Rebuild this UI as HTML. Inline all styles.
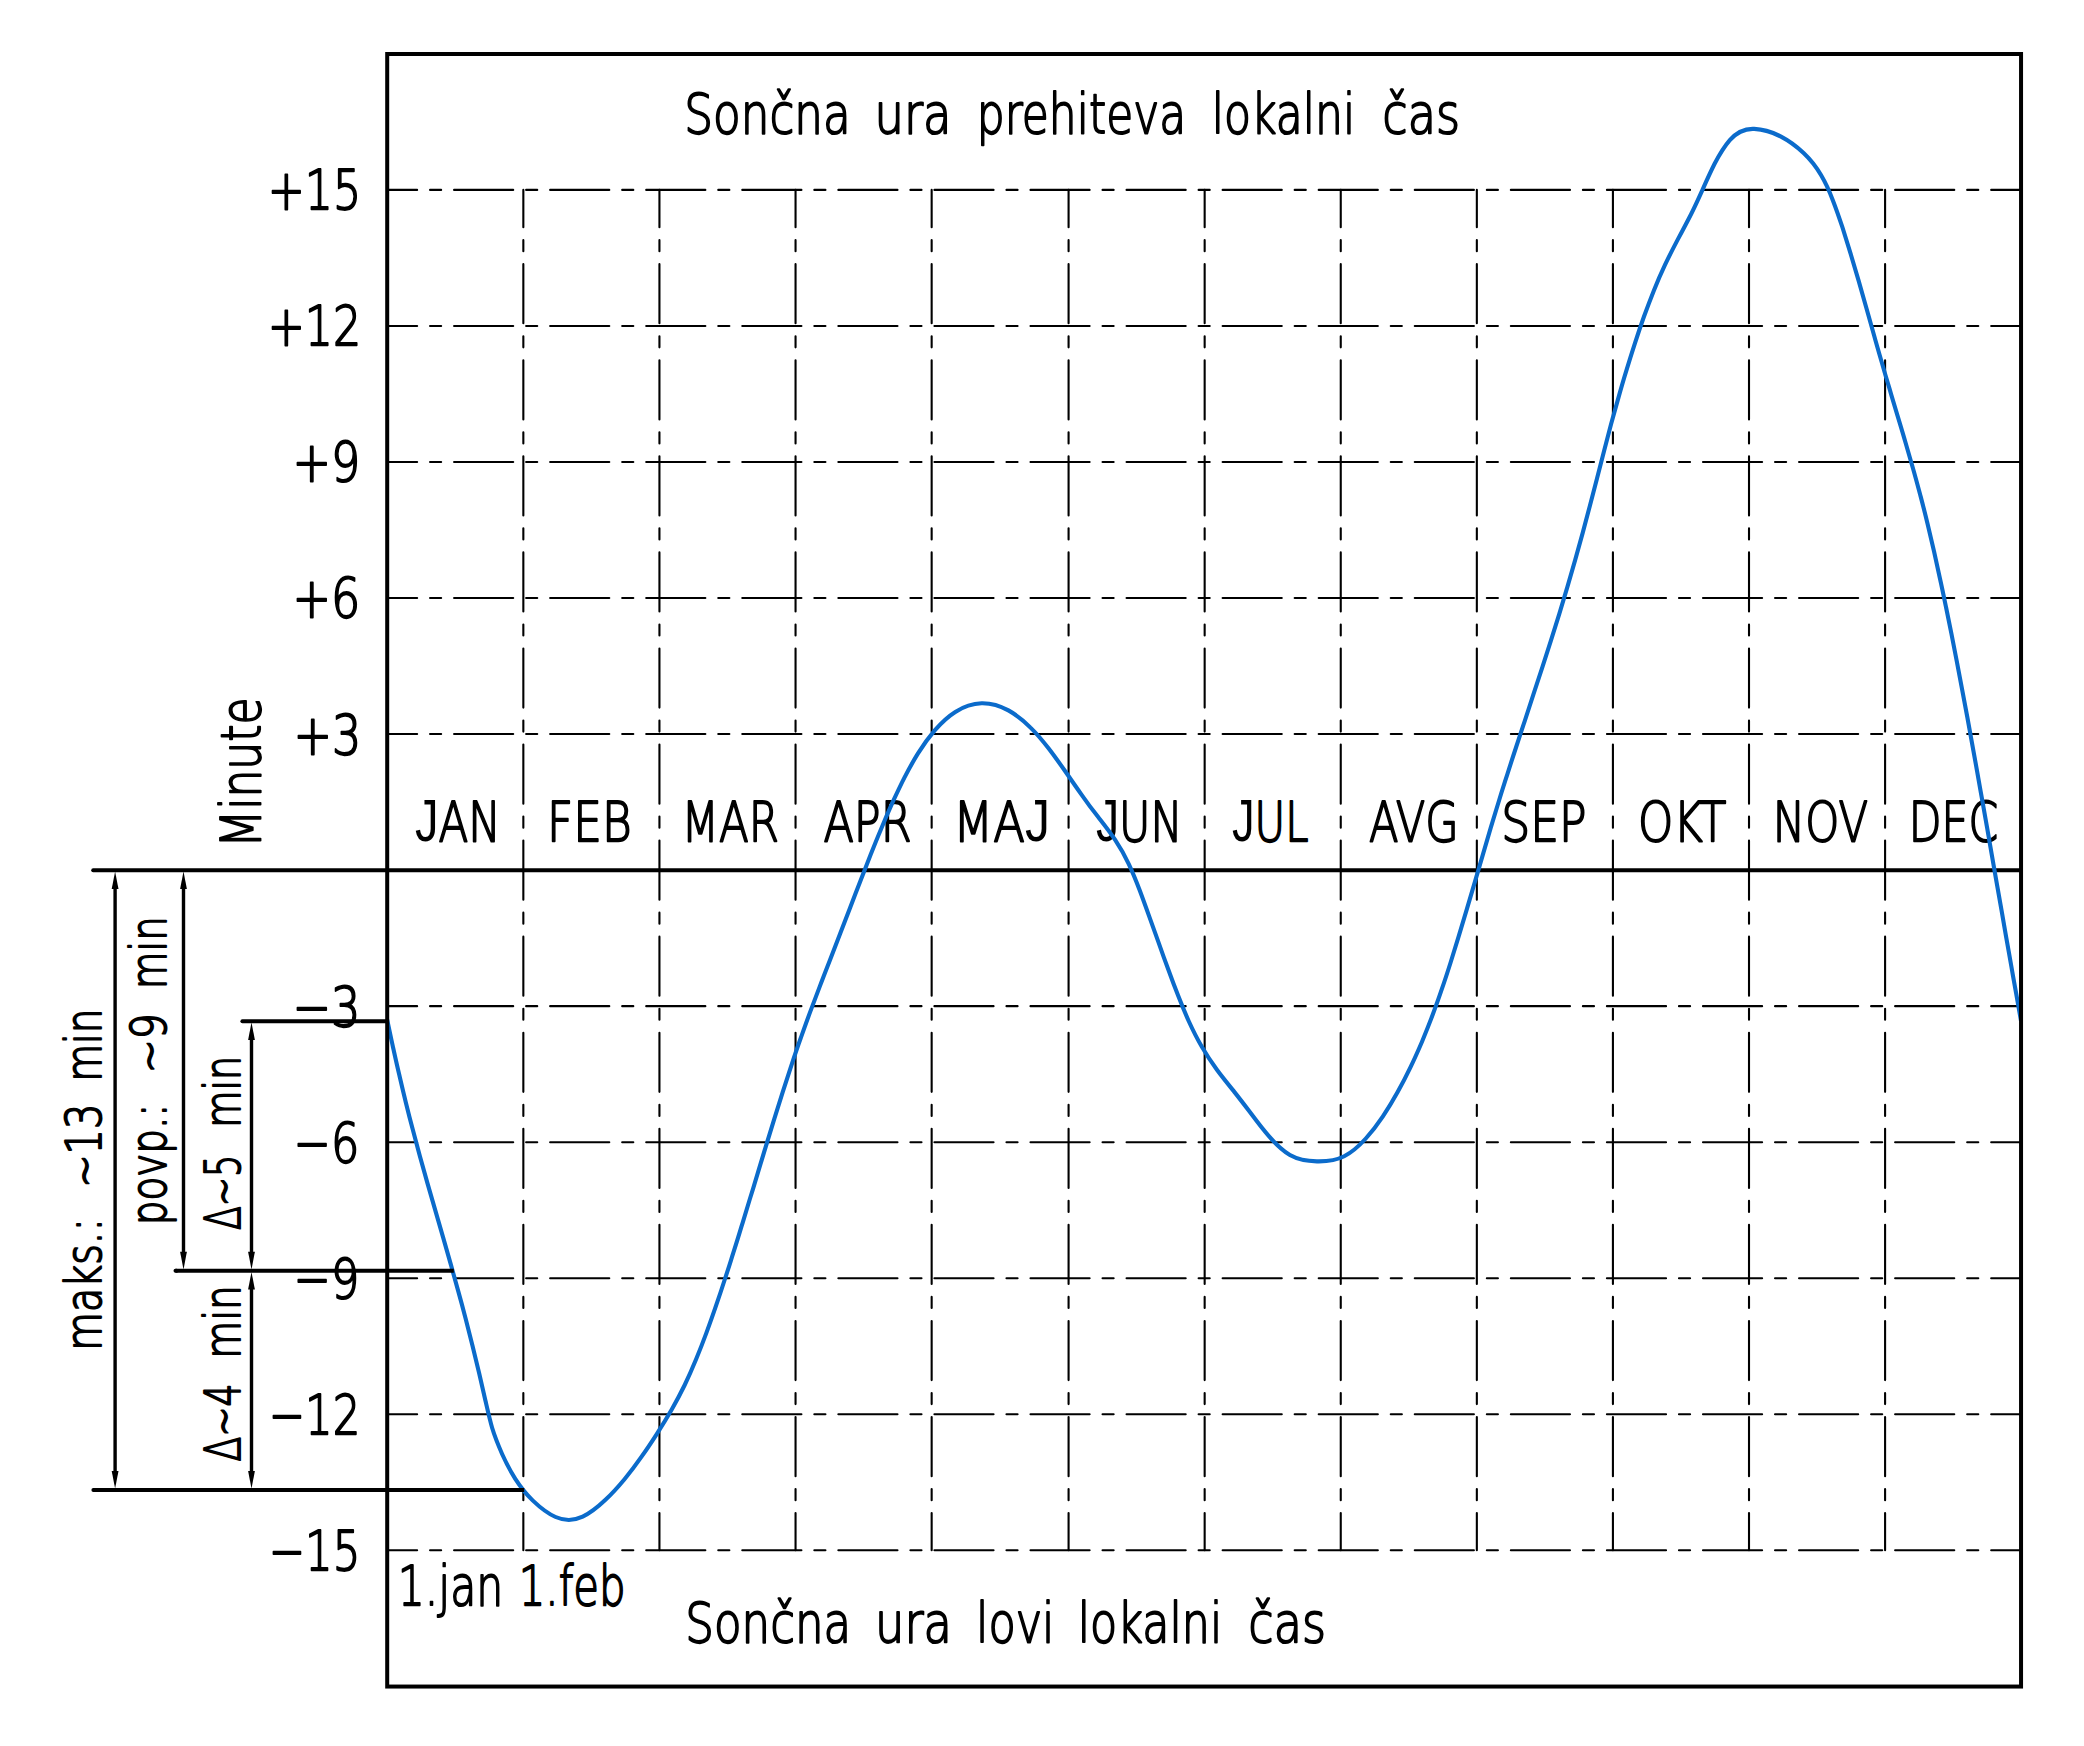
<!DOCTYPE html>
<html lang="sl"><head><meta charset="utf-8"><title>Časovna enačba</title>
<style>html,body{margin:0;padding:0;background:#fff}body{width:2084px;height:1746px;overflow:hidden}svg{display:block}text{font-family:"DejaVu Sans Light","DejaVu Sans","Liberation Sans",sans-serif;fill:#000}</style></head><body>
<svg width="2084" height="1746" viewBox="0 0 2084 1746">
<rect width="2084" height="1746" fill="#fff"/>
<g id="labels" font-weight="200" stroke="#000" stroke-width="1.9" stroke-linejoin="round" stroke-linecap="round">
<text y="132.70" font-size="54.60"><tspan x="684.32" textLength="166.38" lengthAdjust="spacingAndGlyphs">Sončna</tspan> <tspan x="874.47" textLength="77.07" lengthAdjust="spacingAndGlyphs">ura</tspan> <tspan x="976.82" textLength="209.33" lengthAdjust="spacingAndGlyphs">prehiteva</tspan> <tspan x="1211.79" textLength="143.45" lengthAdjust="spacingAndGlyphs">lokalni</tspan> <tspan x="1382.33" textLength="77.83" lengthAdjust="spacingAndGlyphs">čas</tspan></text>
<text y="1642.20" font-size="54.60"><tspan x="685.37" textLength="165.80" lengthAdjust="spacingAndGlyphs">Sončna</tspan> <tspan x="875.10" textLength="76.93" lengthAdjust="spacingAndGlyphs">ura</tspan> <tspan x="976.01" textLength="78.50" lengthAdjust="spacingAndGlyphs">lovi</tspan> <tspan x="1077.75" textLength="144.50" lengthAdjust="spacingAndGlyphs">lokalni</tspan> <tspan x="1248.35" textLength="77.77" lengthAdjust="spacingAndGlyphs">čas</tspan></text>
<text y="841.05" font-size="54.60"><tspan x="414.95" textLength="85.96" lengthAdjust="spacingAndGlyphs"><tspan font-family="'Liberation Sans',sans-serif" font-weight="400" stroke="none" font-size="59.01">J</tspan>AN</tspan></text>
<text y="841.05" font-size="54.60"><tspan x="547.12" textLength="84.60" lengthAdjust="spacingAndGlyphs">FEB</tspan></text>
<text y="841.05" font-size="54.60"><tspan x="681.57" textLength="97.52" lengthAdjust="spacingAndGlyphs">MAR</tspan></text>
<text y="841.05" font-size="54.60"><tspan x="823.48" textLength="88.08" lengthAdjust="spacingAndGlyphs">APR</tspan></text>
<text y="841.05" font-size="54.60"><tspan x="953.30" textLength="96.62" lengthAdjust="spacingAndGlyphs">MA<tspan font-family="'Liberation Sans',sans-serif" font-weight="400" stroke="none" font-size="59.01">J</tspan></tspan></text>
<text y="841.05" font-size="54.60"><tspan x="1095.92" textLength="86.60" lengthAdjust="spacingAndGlyphs"><tspan font-family="'Liberation Sans',sans-serif" font-weight="400" stroke="none" font-size="59.01">J</tspan>UN</tspan></text>
<text y="841.05" font-size="54.60"><tspan x="1231.98" textLength="76.53" lengthAdjust="spacingAndGlyphs"><tspan font-family="'Liberation Sans',sans-serif" font-weight="400" stroke="none" font-size="59.01">J</tspan>UL</tspan></text>
<text y="841.05" font-size="54.60"><tspan x="1368.98" textLength="89.73" lengthAdjust="spacingAndGlyphs">AVG</tspan></text>
<text y="841.05" font-size="54.60"><tspan x="1501.28" textLength="85.34" lengthAdjust="spacingAndGlyphs">SEP</tspan></text>
<text y="841.05" font-size="54.60"><tspan x="1637.90" textLength="88.60" lengthAdjust="spacingAndGlyphs">OKT</tspan></text>
<text y="841.05" font-size="54.60"><tspan x="1772.78" textLength="95.29" lengthAdjust="spacingAndGlyphs">NOV</tspan></text>
<text y="841.05" font-size="54.60"><tspan x="1908.71" textLength="89.40" lengthAdjust="spacingAndGlyphs">DEC</tspan></text>
<text y="209.30" font-size="54.60"><tspan x="267.68" textLength="93.63" lengthAdjust="spacingAndGlyphs">+15</tspan></text>
<text y="345.35" font-size="54.60"><tspan x="267.68" textLength="93.63" lengthAdjust="spacingAndGlyphs">+12</tspan></text>
<text y="481.40" font-size="54.60"><tspan x="292.49" textLength="67.93" lengthAdjust="spacingAndGlyphs">+9</tspan></text>
<text y="617.45" font-size="54.60"><tspan x="292.49" textLength="67.93" lengthAdjust="spacingAndGlyphs">+6</tspan></text>
<text y="753.50" font-size="54.60"><tspan x="293.51" textLength="67.93" lengthAdjust="spacingAndGlyphs">+3</tspan></text>
<text y="1025.60" font-size="54.60"><tspan x="292.41" textLength="68.09" lengthAdjust="spacingAndGlyphs">−3</tspan></text>
<text y="1161.65" font-size="54.60"><tspan x="293.56" textLength="65.69" lengthAdjust="spacingAndGlyphs">−6</tspan></text>
<text y="1297.70" font-size="54.60"><tspan x="293.56" textLength="65.69" lengthAdjust="spacingAndGlyphs">−9</tspan></text>
<text y="1433.75" font-size="54.60"><tspan x="268.69" textLength="91.64" lengthAdjust="spacingAndGlyphs">−12</tspan></text>
<text y="1569.80" font-size="54.60"><tspan x="268.69" textLength="91.66" lengthAdjust="spacingAndGlyphs">−15</tspan></text>
<text y="1604.70" font-size="54.60"><tspan x="397.73" textLength="105.54" lengthAdjust="spacingAndGlyphs">1.jan</tspan> <tspan x="518.78" textLength="106.85" lengthAdjust="spacingAndGlyphs">1.feb</tspan></text>
<text transform="translate(259.50 0) rotate(-90)" y="0" font-size="54.60"><tspan x="-847.84" textLength="150.48" lengthAdjust="spacingAndGlyphs">Minute</tspan></text>
<text transform="translate(101.40 0) rotate(-90)" y="0" font-size="49.25"><tspan x="-1350.71" textLength="132.49" lengthAdjust="spacingAndGlyphs">maks.:</tspan> <tspan x="-1187.80" textLength="84.08" lengthAdjust="spacingAndGlyphs">~13</tspan> <tspan x="-1081.82" textLength="73.16" lengthAdjust="spacingAndGlyphs">min</tspan></text>
<text transform="translate(165.50 0) rotate(-90)" y="0" font-size="49.25"><tspan x="-1225.28" textLength="121.61" lengthAdjust="spacingAndGlyphs">povp.:</tspan> <tspan x="-1073.37" textLength="60.07" lengthAdjust="spacingAndGlyphs">~9</tspan> <tspan x="-989.27" textLength="73.05" lengthAdjust="spacingAndGlyphs">min</tspan></text>
<text transform="translate(239.60 0) rotate(-90)" y="0" font-size="49.25"><tspan x="-1230.02" textLength="75.18" lengthAdjust="spacingAndGlyphs">Δ~5</tspan> <tspan x="-1127.78" textLength="72.06" lengthAdjust="spacingAndGlyphs">min</tspan></text>
<text transform="translate(239.80 0) rotate(-90)" y="0" font-size="49.25"><tspan x="-1461.53" textLength="78.09" lengthAdjust="spacingAndGlyphs">Δ~4</tspan> <tspan x="-1358.82" textLength="73.60" lengthAdjust="spacingAndGlyphs">min</tspan></text>
</g>
<g stroke="#000" stroke-width="2.1" fill="none" stroke-linecap="round" stroke-dasharray="59.14 12.91 11.11 12.91">
<path d="M387.20 1550.30H2021.05" stroke-dashoffset="29.2"/>
<path d="M387.20 1414.26H2021.05" stroke-dashoffset="29.2"/>
<path d="M387.20 1278.22H2021.05" stroke-dashoffset="29.2"/>
<path d="M387.20 1142.18H2021.05" stroke-dashoffset="29.2"/>
<path d="M387.20 1006.14H2021.05" stroke-dashoffset="29.2"/>
<path d="M387.20 734.06H2021.05" stroke-dashoffset="29.2"/>
<path d="M387.20 598.02H2021.05" stroke-dashoffset="29.2"/>
<path d="M387.20 461.98H2021.05" stroke-dashoffset="29.2"/>
<path d="M387.20 325.94H2021.05" stroke-dashoffset="29.2"/>
<path d="M387.20 189.90H2021.05" stroke-dashoffset="29.2"/>
<path d="M523.34 189.90V1550.30" stroke-dashoffset="21.8"/>
<path d="M659.44 189.90V1550.30" stroke-dashoffset="21.8"/>
<path d="M795.55 189.90V1550.30" stroke-dashoffset="21.8"/>
<path d="M931.66 189.90V1550.30" stroke-dashoffset="21.8"/>
<path d="M1068.58 189.90V1550.30" stroke-dashoffset="21.8"/>
<path d="M1204.66 189.90V1550.30" stroke-dashoffset="21.8"/>
<path d="M1340.75 189.90V1550.30" stroke-dashoffset="21.8"/>
<path d="M1476.84 189.90V1550.30" stroke-dashoffset="21.8"/>
<path d="M1612.92 189.90V1550.30" stroke-dashoffset="21.8"/>
<path d="M1749.01 189.90V1550.30" stroke-dashoffset="21.8"/>
<path d="M1885.09 189.90V1550.30" stroke-dashoffset="21.8"/>
</g>
<path d="M93.2 870.20H2019.05" stroke="#000" stroke-width="4" fill="none" stroke-linecap="round"/>
<path d="M387.2 1019.7C389.1 1029.2 391.1 1038.3 393.0 1047.2C395.1 1056.7 397.1 1065.8 399.2 1074.6C401.4 1084.0 403.5 1093.1 405.7 1101.9C408.0 1111.3 410.3 1120.3 412.7 1129.2C415.1 1138.4 417.5 1147.5 419.9 1156.3C422.5 1165.5 425.0 1174.5 427.5 1183.4C430.1 1192.5 432.7 1201.4 435.3 1210.4C437.9 1219.4 440.5 1228.3 443.1 1237.4C445.7 1246.3 448.2 1255.3 450.8 1264.4C453.3 1273.2 455.8 1282.2 458.3 1291.4C460.8 1300.3 463.2 1309.3 465.6 1318.6C467.9 1327.4 470.2 1336.5 472.5 1345.8C474.7 1354.7 476.9 1363.7 479.1 1373.1C481.2 1382.0 483.3 1391.2 485.4 1400.5C487.7 1410.4 489.9 1420.2 492.1 1427.8C495.5 1439.0 498.8 1446.5 502.1 1454.0C506.5 1463.8 510.9 1471.9 515.3 1478.8C521.2 1488.0 527.0 1494.9 532.9 1500.6C540.5 1507.9 548.0 1513.6 555.6 1517.0C564.6 1521.0 573.7 1520.9 582.7 1516.7C590.2 1513.1 597.7 1507.2 605.2 1500.1C611.6 1494.1 617.9 1487.2 624.3 1479.5C629.9 1472.6 635.6 1465.1 641.2 1457.1C646.5 1449.7 651.7 1441.9 656.9 1433.8C661.8 1426.2 666.7 1418.3 671.6 1409.8C675.9 1402.2 680.3 1394.0 684.7 1385.0C688.5 1377.1 692.3 1368.5 696.1 1359.3C699.5 1351.0 702.9 1342.3 706.3 1333.1C709.4 1324.6 712.6 1315.8 715.7 1306.6C718.7 1298.0 721.7 1289.1 724.6 1280.0C727.5 1271.3 730.3 1262.3 733.2 1253.2C736.0 1244.4 738.8 1235.5 741.5 1226.4C744.3 1217.5 747.0 1208.6 749.7 1199.5C752.5 1190.6 755.2 1181.6 757.9 1172.7C760.6 1163.7 763.3 1154.7 766.0 1145.8C768.8 1136.8 771.5 1127.8 774.3 1118.9C777.1 1109.9 779.9 1100.9 782.7 1092.1C785.6 1083.0 788.5 1074.1 791.4 1065.4C794.4 1056.3 797.4 1047.4 800.5 1038.8C803.7 1029.8 806.8 1021.0 810.0 1012.4C813.3 1003.5 816.6 994.7 819.9 986.1C823.2 977.3 826.6 968.6 830.0 959.9C833.4 951.1 836.7 942.4 840.1 933.7C843.5 925.0 846.8 916.2 850.2 907.4C853.6 898.7 856.9 889.9 860.3 881.2C863.7 872.4 867.1 863.6 870.5 855.1C874.0 846.2 877.5 837.5 881.1 829.0C884.8 820.1 888.5 811.5 892.2 803.2C896.3 794.3 900.3 785.8 904.3 777.9C908.9 768.9 913.5 760.7 918.0 753.4C923.5 744.6 929.0 737.0 934.5 730.6C941.4 722.6 948.3 716.3 955.3 711.9C964.1 706.2 972.8 703.4 981.6 703.2C990.6 703.0 999.5 705.4 1008.4 710.4C1015.8 714.5 1023.2 720.2 1030.5 727.6C1036.7 733.6 1042.8 740.9 1048.9 748.8C1054.4 756.0 1059.9 763.7 1065.4 771.5C1070.7 779.2 1076.1 787.0 1081.5 794.6C1087.0 802.5 1092.6 810.0 1098.2 817.1C1103.8 824.3 1109.4 831.3 1115.0 839.7C1119.6 846.6 1124.2 854.4 1128.8 864.1C1132.4 871.7 1136.0 880.6 1139.6 890.0C1142.8 898.5 1146.0 907.4 1149.2 916.4C1152.4 925.2 1155.5 934.1 1158.7 942.9C1161.8 951.8 1165.0 960.7 1168.2 969.3C1171.5 978.4 1174.8 987.2 1178.1 995.6C1181.7 1004.8 1185.3 1013.5 1188.9 1021.5C1193.2 1030.9 1197.4 1039.2 1201.7 1046.5C1206.8 1055.4 1212.0 1063.0 1217.1 1070.0C1222.9 1077.8 1228.7 1084.9 1234.5 1092.1C1240.2 1099.2 1245.9 1106.8 1251.6 1114.3C1257.4 1122.1 1263.2 1129.7 1269.1 1136.4C1276.0 1144.4 1283.0 1151.0 1289.9 1155.0C1298.9 1160.1 1307.9 1161.2 1316.9 1161.4C1326.0 1161.6 1335.1 1161.0 1344.2 1156.3C1351.4 1152.5 1358.6 1146.5 1365.8 1138.5C1371.5 1132.2 1377.2 1124.8 1382.9 1116.3C1387.8 1109.0 1392.7 1101.0 1397.5 1092.3C1401.8 1084.6 1406.1 1076.3 1410.4 1067.3C1414.3 1059.3 1418.1 1050.8 1422.0 1041.7C1425.4 1033.5 1428.9 1024.8 1432.4 1015.6C1435.5 1007.2 1438.7 998.4 1441.8 989.2C1444.8 980.6 1447.7 971.7 1450.6 962.5C1453.4 953.7 1456.1 944.8 1458.9 935.6C1461.6 926.8 1464.3 917.8 1467.0 908.7C1469.6 899.8 1472.2 890.8 1474.9 881.8C1477.5 872.8 1480.1 863.8 1482.8 854.8C1485.4 845.7 1488.1 836.7 1490.7 827.9C1493.5 818.7 1496.2 809.8 1498.9 801.0C1501.7 791.9 1504.5 783.0 1507.4 774.2C1510.2 765.2 1513.1 756.3 1516.0 747.5C1518.9 738.5 1521.8 729.6 1524.8 720.8C1527.7 711.9 1530.6 703.0 1533.5 694.1C1536.5 685.2 1539.4 676.3 1542.3 667.4C1545.2 658.6 1548.0 649.7 1550.9 640.6C1553.7 631.8 1556.5 622.9 1559.3 613.8C1562.0 605.0 1564.7 596.1 1567.4 586.9C1570.0 578.1 1572.6 569.1 1575.2 559.9C1577.7 551.1 1580.2 542.1 1582.7 532.9C1585.1 524.0 1587.5 514.9 1589.9 505.7C1592.3 496.7 1594.6 487.6 1597.0 478.5C1599.3 469.4 1601.6 460.3 1604.0 451.3C1606.4 442.1 1608.7 433.0 1611.1 424.1C1613.6 414.9 1616.1 405.8 1618.6 397.1C1621.2 387.8 1623.8 378.8 1626.5 370.1C1629.3 360.8 1632.1 351.9 1634.9 343.3C1637.9 334.0 1640.9 325.1 1643.9 316.7C1647.3 307.4 1650.6 298.7 1653.9 290.4C1657.6 281.2 1661.4 272.6 1665.1 264.7C1669.3 255.7 1673.5 247.6 1677.7 239.6C1682.1 231.4 1686.4 223.3 1690.8 214.7C1694.8 206.8 1698.7 198.2 1702.7 189.3C1706.7 180.4 1710.7 171.5 1714.6 163.8C1719.7 154.1 1724.7 146.1 1729.8 140.2C1737.9 130.9 1746.0 128.5 1754.2 128.9C1763.1 129.3 1772.0 131.9 1781.0 136.6C1788.5 140.5 1796.1 145.9 1803.6 153.0C1809.4 158.5 1815.2 165.1 1821.0 175.0C1825.0 181.7 1829.0 190.1 1832.9 200.4C1836.0 208.4 1839.1 217.3 1842.3 226.9C1845.0 235.4 1847.8 244.4 1850.6 253.7C1853.3 262.5 1855.9 271.5 1858.6 280.6C1861.1 289.5 1863.7 298.6 1866.3 307.7C1868.8 316.7 1871.3 325.7 1873.9 334.7C1876.4 343.8 1879.0 352.8 1881.6 361.7C1884.2 370.9 1886.8 379.8 1889.5 388.7C1892.1 397.7 1894.8 406.7 1897.5 415.6C1900.2 424.5 1902.9 433.4 1905.5 442.5C1908.1 451.3 1910.7 460.3 1913.3 469.5C1915.8 478.3 1918.2 487.3 1920.7 496.6C1923.0 505.4 1925.3 514.4 1927.6 523.9C1929.7 532.7 1931.8 541.8 1934.0 551.2C1936.0 560.1 1938.0 569.3 1940.0 578.7C1942.0 587.6 1943.9 596.8 1945.8 606.1C1947.7 615.2 1949.5 624.3 1951.4 633.7C1953.2 642.7 1955.0 651.9 1956.8 661.3C1958.5 670.3 1960.3 679.5 1962.0 688.9C1963.7 698.0 1965.4 707.2 1967.2 716.5C1968.8 725.6 1970.5 734.8 1972.2 744.1C1973.9 753.3 1975.5 762.5 1977.2 771.8C1978.8 780.9 1980.4 790.2 1982.1 799.4C1983.7 808.6 1985.3 817.8 1987.0 827.1C1988.6 836.3 1990.2 845.5 1991.8 854.8C1993.4 864.0 1995.0 873.2 1996.6 882.4C1998.2 891.7 1999.9 900.9 2001.5 910.1C2003.1 919.4 2004.7 928.6 2006.3 937.8C2007.9 947.0 2009.6 956.3 2011.2 965.5C2012.8 974.7 2014.4 984.0 2016.1 993.1C2017.7 1002.4 2019.4 1011.6 2021.0 1020.8" fill="none" stroke="#0b6bcb" stroke-width="4.1" stroke-linejoin="round"/>
<g stroke="#000" stroke-width="4" fill="none" stroke-linecap="round">
<path d="M242.4 1021.2H386.20"/>
<path d="M175.5 1270.7H453.8" stroke-linecap="butt"/><path d="M175.5 1270.7h1"/>
<path d="M93.4 1489.9H524.2" stroke-linecap="butt"/><path d="M93.4 1489.9h1"/>
</g>
<g>
<path d="M115.10 888.10V1472.00" stroke="#000" stroke-width="3.4" fill="none"/><path d="M115.10 871.50L111.70 889.10L118.50 889.10Z" fill="#000"/><path d="M115.10 1488.60L111.70 1471.00L118.50 1471.00Z" fill="#000"/>
<path d="M183.50 888.10V1252.80" stroke="#000" stroke-width="3.4" fill="none"/><path d="M183.50 871.50L180.10 889.10L186.90 889.10Z" fill="#000"/><path d="M183.50 1269.40L180.10 1251.80L186.90 1251.80Z" fill="#000"/>
<path d="M251.50 1039.10V1252.80" stroke="#000" stroke-width="3.4" fill="none"/><path d="M251.50 1022.50L248.10 1040.10L254.90 1040.10Z" fill="#000"/><path d="M251.50 1269.40L248.10 1251.80L254.90 1251.80Z" fill="#000"/>
<path d="M251.50 1288.60V1472.00" stroke="#000" stroke-width="3.4" fill="none"/><path d="M251.50 1272.00L248.10 1289.60L254.90 1289.60Z" fill="#000"/><path d="M251.50 1488.60L248.10 1471.00L254.90 1471.00Z" fill="#000"/>
</g>
<rect x="387.20" y="54.00" width="1633.85" height="1632.55" fill="none" stroke="#000" stroke-width="4"/>
</svg></body></html>
